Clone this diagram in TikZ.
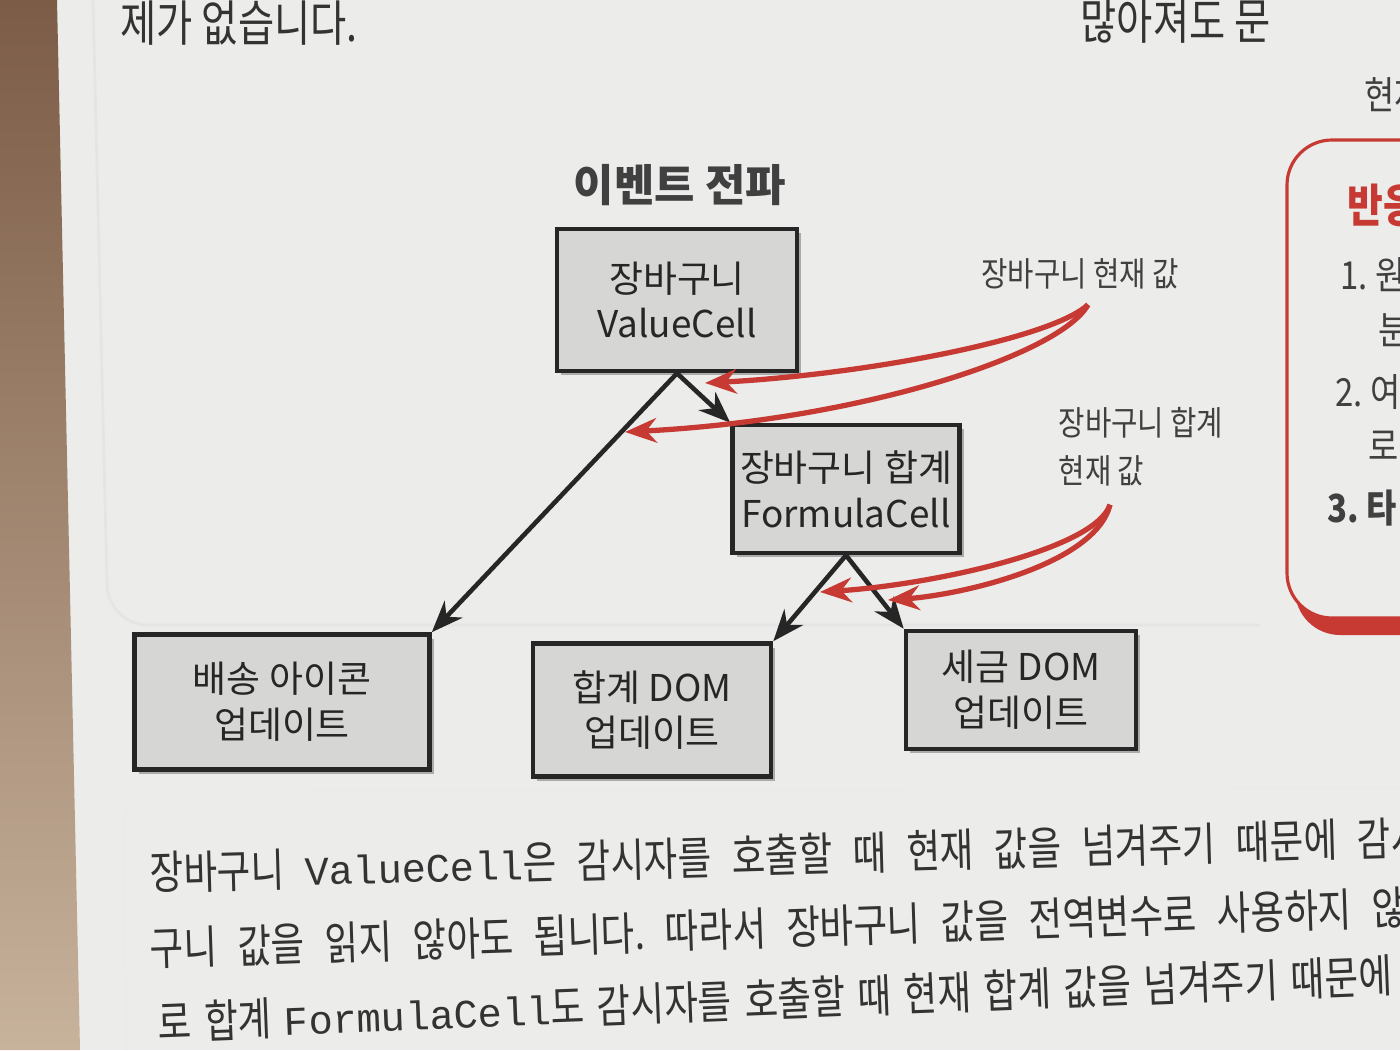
\documentclass[tikz,border=0pt]{standalone}
\usepackage{fontspec}
\setmainfont{Noto Sans CJK KR}
\setmonofont{Liberation Mono}
\newfontfamily\narrowfont[FakeStretch=0.85]{Noto Sans CJK KR}
\newfontfamily\bodyfont[FakeStretch=0.8]{Noto Sans CJK KR}
\newcommand\bodycode[1]{{\ttfamily\fontsize{11.5}{15}\selectfont #1}}
\frenchspacing
\usepackage{xcolor}
\usetikzlibrary{arrows.meta, positioning, shadows, calc}
\definecolor{pagebg}{HTML}{ECECEA}
\definecolor{boxgray}{HTML}{D6D6D4}
\definecolor{flowred}{HTML}{C63A33}
\definecolor{tabletop}{HTML}{7C5C46}
\definecolor{tablelow}{HTML}{C7B29C}

\begin{document}
\begin{tikzpicture}[>={Stealth[length=9pt,width=7pt]},
	cellbox/.style={draw=black!85, line width=1.3pt, fill=boxgray, align=center,
		inner sep=0pt, font=\fontsize{10.5}{13}\selectfont, text=black!85,
		drop shadow={shadow xshift=1.2pt, shadow yshift=-1.2pt, opacity=0.6}},
	flow/.style={->, line width=1.3pt, black!85},
	push/.style={->, line width=1.5pt, flowred},
	note/.style={font=\narrowfont\fontsize{9.6}{13.6}\selectfont, text=black!75, align=left},
	bodyline/.style={anchor=base west, inner sep=0pt, text=black!80,
		font=\bodyfont\fontsize{13}{15}\selectfont},
	sidetext/.style={anchor=west, inner sep=0pt, text=black!75,
		font=\narrowfont\fontsize{11}{13}\selectfont}]
			\useasboundingbox (0,0) rectangle (14,10.5);
			\clip (0,0) rectangle (14,10.5);
			\fill[pagebg] (0,0) rectangle (14,10.5);
			\shade[top color=tabletop, bottom color=tablelow] (0,10.5) -- (0.57,10.5) -- (0.80,0) -- (0,0) -- cycle;
			\draw[black!10, line width=0.8pt, rounded corners=0.4cm] (0.93,10.5) -- (1.08,4.25) -- (12.6,4.25);
			\draw[black!8, line width=0.8pt, rounded corners=0.4cm] (1.27,0) -- (1.22,2.58) -- (14.2,2.62);
			\node[bodyline, font=\bodyfont\fontsize{14}{16}\selectfont] (topline) at (1.20,10.08) {제가 없습니다.};
			\node[bodyline, font=\bodyfont\fontsize{14}{16}\selectfont] (topright) at (10.80,10.10) {많아져도 문};
			\node[font=\fontsize{12.5}{15}\bfseries, text=black!75] (title) at (6.80,8.65) {이벤트 전파};
			\node[cellbox, minimum width=2.4cm, minimum height=1.42cm] (cart) at (6.77,7.50) {장바구니\\ValueCell};
			\node[cellbox, minimum width=2.27cm, minimum height=1.28cm] (total) at (8.46,5.61) {장바구니 합계\\FormulaCell};
			\node[cellbox, minimum width=2.95cm, minimum height=1.35cm] (ship) at (2.82,3.48) {배송 아이콘\\업데이트};
			\node[cellbox, minimum width=2.38cm, minimum height=1.33cm] (totaldom) at (6.52,3.40) {합계 DOM\\업데이트};
			\node[cellbox, minimum width=2.30cm, minimum height=1.18cm] (taxdom) at (10.21,3.60) {세금 DOM\\업데이트};
			\draw[flow] (cart.south) -- (ship.north east);
			\draw[flow] (cart.south) -- (total.north west);
			\draw[flow] (total.south) -- (totaldom.north east);
			\draw[flow] (total.south) -- (taxdom.north west);
			\node[note] (cartnote) at (10.80,7.76) {장바구니 현재 값};
			\node[note] (totalnote) at (11.41,6.03) {장바구니 합계\\현재 값};
			\coordinate (cartin) at (7.05,6.67);
			\coordinate (totalin) at (6.25,6.18);
			\coordinate (domin) at (8.20,4.58);
			\coordinate (taxin) at (8.88,4.50);
			\draw[push] ($(cartnote.south)+(0.08,-0.03)$) .. controls (10.5,7.1) and (8.6,6.75) .. (cartin);
			\draw[push] ($(cartnote.south)+(0.08,-0.03)$) .. controls (10.6,6.95) and (8.6,6.3) .. (totalin);
			\draw[push] ($(totalnote.south)+(-0.31,-0.06)$) .. controls (10.95,5.0) and (9.3,4.65) .. (domin);
			\draw[push] ($(totalnote.south)+(-0.31,-0.06)$) .. controls (10.95,4.85) and (9.6,4.55) .. (taxin);
			\fill[flowred, rounded corners=0.45cm] (12.95,4.15) rectangle (14.6,8.6);
			\filldraw[fill=pagebg, draw=flowred, line width=0.9pt, rounded corners=0.45cm] (12.87,4.32) rectangle (14.6,9.10);
			\node[sidetext] (sidetop) at (13.64,9.55) {현재};
			\node[sidetext, font=\narrowfont\fontsize{13}{15}\bfseries, text=flowred] (sidehead) at (13.47,8.45) {반응};
			\node[sidetext] (sideone) at (13.40,7.75) {1. 원};
			\node[sidetext] (sideonemore) at (13.78,7.20) {분};
			\node[sidetext] (sidetwo) at (13.35,6.58) {2. 여};
			\node[sidetext] (sidetwomore) at (13.68,6.04) {로};
			\node[sidetext, font=\narrowfont\fontsize{11}{13}\bfseries] (sidethree) at (13.27,5.42) {3. 타};
			\node[bodyline, rotate=1.6] (bodyone) at (1.50,1.60)
			{\makebox[12.75cm][s]{장바구니 \bodycode{ValueCell}은 감시자를 호출할 때 현재 값을 넘겨주기 때문에 감시}};
			\node[bodyline, rotate=1.9] (bodytwo) at (1.50,0.84)
			{\makebox[12.9cm][s]{구니 값을 읽지 않아도 됩니다. 따라서 장바구니 값을 전역변수로 사용하지 않아}};
			\node[bodyline, rotate=2.2] (bodythree) at (1.58,0.10)
			{\makebox[12.35cm][s]{로 합계 \bodycode{FormulaCell}도 감시자를 호출할 때 현재 합계 값을 넘겨주기 때문에}};
		\end{tikzpicture}
\end{document}
